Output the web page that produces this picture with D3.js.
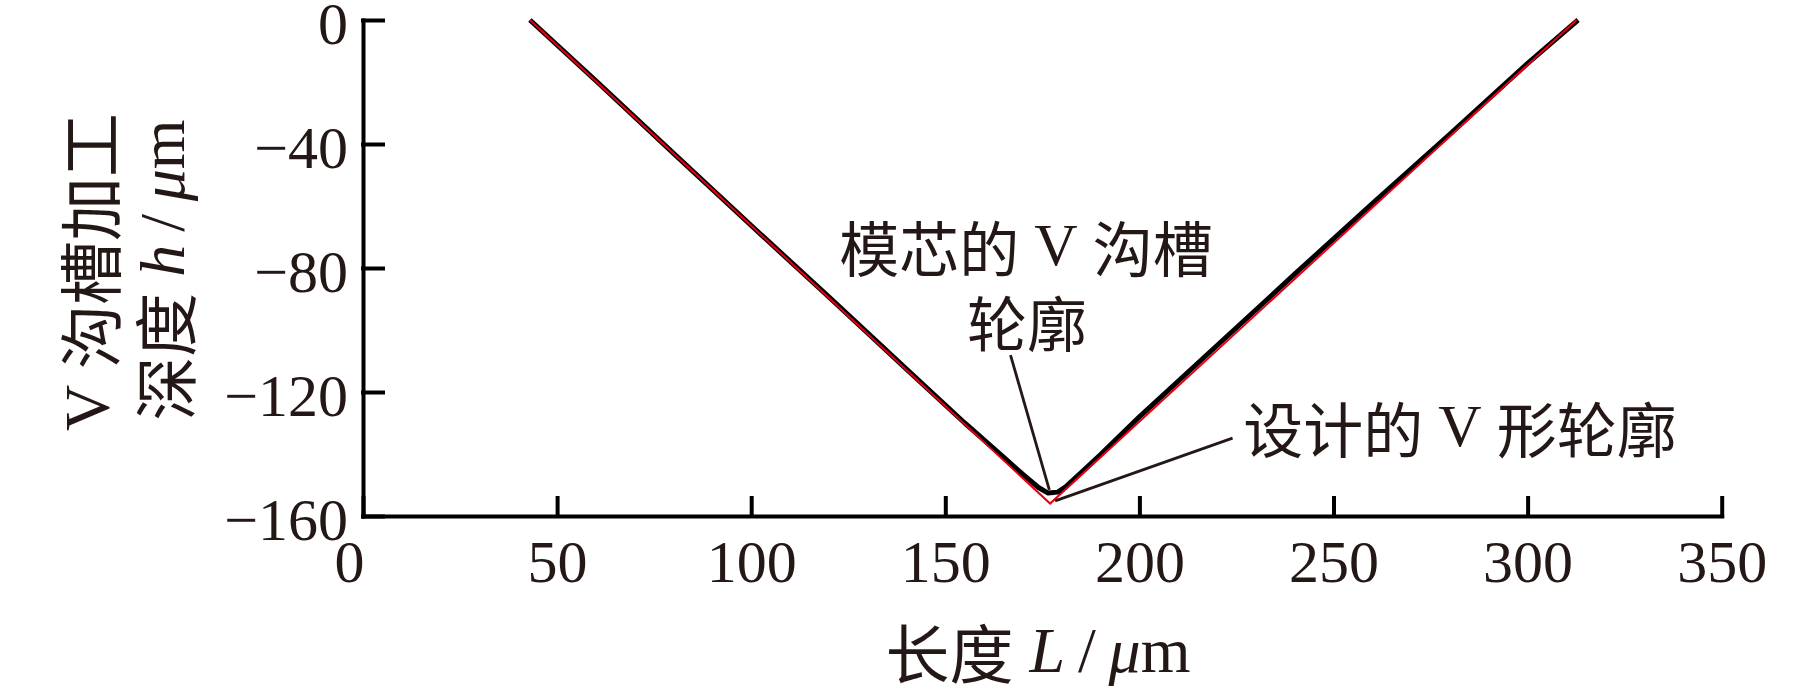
<!DOCTYPE html>
<html>
<head>
<meta charset="utf-8">
<script src="https://cdn.jsdelivr.net/npm/d3@7"></script>
<style>
  html, body { margin: 0; padding: 0; background: #fff; }
  svg { display: block; }
</style>
</head>
<body>
<svg id="chart" width="1819" height="698"></svg>
<script>
// ---- data ----
const xTicks = [0, 50, 100, 150, 200, 250, 300, 350];
const yTicks = [0, -40, -80, -120, -160];
const xTickLabels = ["0", "50", "100", "150", "200", "250", "300", "350"];
const yTickLabels = ["0", "\u221240", "\u221280", "\u2212120", "\u2212160"];

// designed V profile (red)
const designL = [43, 177, 312.6];
const designH = [0, -156, 0];

// measured V groove profile of the mold core (black)
const moldL = [43, 60, 80, 100, 120, 140, 155, 165, 170, 174, 176.5, 179, 181, 185, 190, 200, 220, 240, 260, 280, 300, 313];
const moldH = [0, -19.6, -43, -66.3, -89.3, -112.6, -130, -141, -146.6, -150.8, -152.6, -152.3, -150.6, -146, -140.2, -128, -105, -82, -59.2, -36.8, -14, 0];

const xTitle = "长度";
const yTitle1 = "沟槽加工";
const yTitle2 = "深度";
const annot1a = "模芯的";
const annot1b = "沟槽";
const annot1c = "轮廓";
const annot2a = "设计的";
const annot2b = "形轮廓";

// ---- drawing ----
const svg = d3.select("#chart");
const ink = "#231815";
const cjk = "'Noto Sans CJK SC', sans-serif";
const serif = "'Liberation Serif', 'Times New Roman', serif";

const x = d3.scaleLinear().domain([0, 350]).range([363, 1721.7]);
const y = d3.scaleLinear().domain([-160, 0]).range([516, 20]);

// axes
const yAxis = d3.axisLeft(y)
  .tickValues(yTicks)
  .tickFormat((d, i) => yTickLabels[i])
  .tickSizeInner(-20)
  .tickSizeOuter(0)
  .tickPadding(15);

const xAxis = d3.axisBottom(x)
  .tickValues(xTicks)
  .tickFormat((d, i) => xTickLabels[i])
  .tickSizeInner(-18)
  .tickSizeOuter(0)
  .tickPadding(23);

const gy = svg.append("g").attr("transform", `translate(${x(0)},0)`).call(yAxis);
const gx = svg.append("g").attr("transform", `translate(0,${y(-160)})`).call(xAxis);

[gx, gy].forEach(g => {
  g.select(".domain").attr("stroke", "#000").attr("stroke-width", 4).attr("stroke-linecap", "square");
  g.selectAll(".tick line").attr("stroke", "#000").attr("stroke-width", 4).attr("stroke-linecap", "square");
  g.selectAll(".tick text")
    .attr("fill", ink)
    .style("font-family", serif)
    .style("font-size", "60px");
});
gy.selectAll(".tick text").attr("dy", "23px");
gx.selectAll(".tick text").filter((d) => d === 0).attr("x", -14);

// lines
const line = d3.line().x(d => x(d[0])).y(d => y(d[1])).curve(d3.curveLinear);
const moldData = moldL.map((v, i) => [v, moldH[i]]);
const designData = designL.map((v, i) => [v, designH[i]]);

svg.append("path").datum(moldData)
  .attr("d", line)
  .attr("fill", "none")
  .attr("stroke", "#000")
  .attr("stroke-width", 5)
  .attr("stroke-linejoin", "round");

svg.append("path").datum(designData)
  .attr("d", line)
  .attr("fill", "none")
  .attr("stroke", "#e60012")
  .attr("stroke-width", 2)
  .attr("stroke-linejoin", "miter");

// leader lines
svg.append("line")
  .attr("x1", x(166.8)).attr("y1", y(-108.1))
  .attr("x2", x(176.8)).attr("y2", y(-151.6))
  .attr("stroke", ink).attr("stroke-width", 2.8);
svg.append("line")
  .attr("x1", x(224.0)).attr("y1", y(-134.9))
  .attr("x2", x(178.3)).attr("y2", y(-155.1))
  .attr("stroke", ink).attr("stroke-width", 2.8);

// annotation texts
function mixed(parent, xc, yc, parts, rotate, size) {
  const t = parent.append("text")
    .attr("x", xc).attr("y", yc)
    .attr("text-anchor", "middle")
    .attr("dominant-baseline", "central")
    .attr("fill", ink)
    .style("font-size", (size || 60) + "px");
  if (rotate) t.attr("transform", `rotate(-90,${xc},${yc})`);
  parts.forEach(p => {
    const s = t.append("tspan").text(p.t).style("font-family", p.f);
    if (p.i) s.style("font-style", "italic");
  });
  return t;
}

mixed(svg, 1026, 245, [
  {t: annot1a, f: cjk}, {t: "\u00a0V\u00a0", f: serif}, {t: annot1b, f: cjk}
]);
mixed(svg, 1027, 320, [{t: annot1c, f: cjk}]);
mixed(svg, 1460, 426, [
  {t: annot2a, f: cjk}, {t: "\u00a0V\u00a0", f: serif}, {t: annot2b, f: cjk}
]);

// axis titles
mixed(svg, 1038, 650, [
  {t: xTitle, f: cjk}, {t: "\u00a0", f: serif}, {t: "L", f: serif, i: true},
  {t: "\u2009/\u2009", f: serif}, {t: "\u03bc", f: serif, i: true}, {t: "m", f: serif}
], false, 64);
mixed(svg, 87, 272, [
  {t: "V\u00a0", f: serif}, {t: yTitle1, f: cjk}
], true, 64);
mixed(svg, 162, 270, [
  {t: yTitle2, f: cjk}, {t: "\u00a0", f: serif}, {t: "h", f: serif, i: true},
  {t: "\u2009/\u2009", f: serif}, {t: "\u03bc", f: serif, i: true}, {t: "m", f: serif}
], true, 64);
</script>
</body>
</html>
